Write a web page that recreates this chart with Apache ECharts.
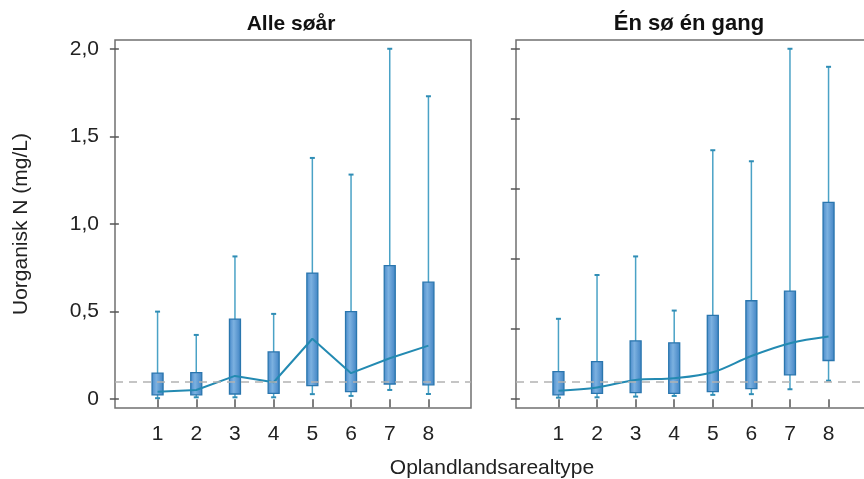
<!DOCTYPE html>
<html>
<head>
<meta charset="utf-8">
<script src="https://cdn.jsdelivr.net/npm/echarts@6/dist/echarts.min.js"></script>
<style>
  html, body { margin: 0; padding: 0; background: #fff; }
  #chart { width: 864px; height: 479px; }
</style>
</head>
<body>
<div id="chart"></div>
<script>
// arealtyper 1-8
var categories = [1, 2, 3, 4, 5, 6, 7, 8];
var xTickLabels = ['1', '2', '3', '4', '5', '6', '7', '8'];
var yTicks = [0, 0.5, 1.0, 1.5, 2.0];
var yTickLabels = ['0', '0,5', '1,0', '1,5', '2,0'];
var yTicksRight = [0, 0.4, 0.8, 1.2, 1.6, 2.0];
var panelTitles = ['Alle søår', 'Én sø én gang'];
var threshold = 0.1;

// Alle søår
var allMin = [0.006, 0.011, 0.011, 0.011, 0.029, 0.019, 0.053, 0.030];
var allQ1 = [0.025, 0.025, 0.030, 0.034, 0.078, 0.043, 0.087, 0.082];
var allMedian = [0.043, 0.053, 0.133, 0.097, 0.345, 0.149, 0.234, 0.306];
var allQ3 = [0.149, 0.152, 0.457, 0.270, 0.720, 0.500, 0.762, 0.668];
var allMax = [0.500, 0.367, 0.815, 0.487, 1.377, 1.282, 2.000, 1.729];

// Én sø én gang
var oneMin = [0.009, 0.011, 0.015, 0.019, 0.025, 0.029, 0.057, 0.106];
var oneQ1 = [0.025, 0.034, 0.038, 0.034, 0.043, 0.061, 0.139, 0.221];
var oneMedian = [0.049, 0.067, 0.110, 0.120, 0.154, 0.247, 0.320, 0.358];
var oneQ3 = [0.158, 0.215, 0.333, 0.322, 0.478, 0.562, 0.617, 1.123];
var oneMax = [0.459, 0.709, 0.815, 0.506, 1.421, 1.358, 2.000, 1.897];

var FONT = 'Liberation Sans, Arial, sans-serif';
var FS = 21;

function boxRows(mn, q1, md, q3, mx) {
  return categories.map(function(c, i) {
    return [c, mn[i], q1[i], md[i], q3[i], mx[i]];
  });
}
function medianRows(md) {
  return categories.map(function(c, i) { return [c, md[i]]; });
}

function renderBox(params, api) {
  var x = api.value(0);
  var lo = api.coord([x, api.value(1)]);
  var q1 = api.coord([x, api.value(2)]);
  var q3 = api.coord([x, api.value(4)]);
  var hi = api.coord([x, api.value(5)]);
  var w = 11;
  var cx = lo[0];
  return {
    type: 'group',
    children: [
      { type: 'line', shape: { x1: cx, y1: lo[1], x2: cx, y2: hi[1] },
        style: { stroke: '#4aa2c6', lineWidth: 1.5 } },
      { type: 'line', shape: { x1: cx - 2.5, y1: hi[1], x2: cx + 2.5, y2: hi[1] },
        style: { stroke: '#2f8db5', lineWidth: 2 } },
      { type: 'line', shape: { x1: cx - 2.5, y1: lo[1], x2: cx + 2.5, y2: lo[1] },
        style: { stroke: '#2f8db5', lineWidth: 2 } },
      { type: 'rect', shape: { x: cx - w / 2, y: q3[1], width: w, height: q1[1] - q3[1] },
        style: {
          fill: new echarts.graphic.LinearGradient(0, 0, 1, 0, [
            { offset: 0, color: '#4688c9' },
            { offset: 0.4, color: '#7cb1e0' },
            { offset: 1, color: '#3f82c3' }
          ]),
          stroke: '#2a76ae',
          lineWidth: 1.3
        } }
    ]
  };
}

function panelSeries(idx, mn, q1, md, q3, mx, smooth) {
  return [
    {
      type: 'custom',
      xAxisIndex: idx,
      yAxisIndex: idx,
      renderItem: renderBox,
      data: boxRows(mn, q1, md, q3, mx),
      z: 2
    },
    {
      type: 'line',
      xAxisIndex: idx,
      yAxisIndex: idx,
      data: medianRows(md),
      smooth: smooth,
      symbol: 'none',
      lineStyle: { color: '#238ab2', width: 2 },
      z: 4,
      markLine: {
        silent: true,
        symbol: 'none',
        label: { show: false },
        lineStyle: { color: '#b3b3b3', type: [8, 6], width: 1.5 },
        data: [{ yAxis: threshold }]
      }
    }
  ];
}

function xAxisFor(idx) {
  return {
    type: 'value',
    gridIndex: idx,
    min: -0.1,
    max: 9.1,
    offset: 2,
    axisLine: { show: false },
    splitLine: { show: false },
    axisTick: { show: true, length: 8, customValues: categories,
      lineStyle: { color: '#555', width: 1.5 } },
    axisLabel: {
      customValues: categories,
      margin: 14,
      color: '#222',
      fontSize: FS,
      fontFamily: FONT,
      formatter: function(v) { return xTickLabels[categories.indexOf(v)]; }
    }
  };
}

var chart = echarts.init(document.getElementById('chart'));
chart.setOption({
  animation: false,
  backgroundColor: '#fff',
  graphic: [
    { type: 'text', x: 291, y: 24,
      style: { text: panelTitles[0], fontSize: FS, fontWeight: 'bold', fill: '#111', fontFamily: FONT,
        align: 'center', verticalAlign: 'middle' } },
    { type: 'text', x: 689, y: 24,
      style: { text: panelTitles[1], fontSize: FS + 1, fontWeight: 'bold', fill: '#111', fontFamily: FONT,
        align: 'center', verticalAlign: 'middle' } },
    { type: 'text', x: 492, y: 468,
      style: { text: 'Oplandlandsarealtype', fontSize: FS, fill: '#222', fontFamily: FONT,
        align: 'center', verticalAlign: 'middle' } }
  ],
  grid: [
    { left: 115, top: 40, width: 356, height: 368, show: true, borderColor: '#707070', borderWidth: 1.5,
      outerBoundsMode: 'none' },
    { left: 516, top: 40, width: 355, height: 368, show: true, borderColor: '#707070', borderWidth: 1.5,
      outerBoundsMode: 'none' }
  ],
  xAxis: [xAxisFor(0), xAxisFor(1)],
  yAxis: [
    {
      type: 'value',
      gridIndex: 0,
      min: -0.05,
      max: 2.05,
      offset: 2,
      name: 'Uorganisk N (mg/L)',
      nameLocation: 'middle',
      nameGap: 81,
      nameTextStyle: { fontSize: FS, color: '#222', fontFamily: FONT },
      axisLine: { show: false },
      splitLine: { show: false },
      axisTick: { show: true, length: 9, customValues: yTicks,
        lineStyle: { color: '#555', width: 1.5 } },
      axisLabel: {
        customValues: yTicks,
        margin: 14,
        color: '#222',
        fontSize: FS,
        fontFamily: FONT,
        formatter: function(v) { return yTickLabels[yTicks.indexOf(v)]; }
      }
    },
    {
      type: 'value',
      gridIndex: 1,
      min: -0.05,
      max: 2.05,
      offset: 2,
      axisLine: { show: false },
      splitLine: { show: false },
      axisTick: { show: true, length: 9, customValues: yTicksRight,
        lineStyle: { color: '#555', width: 1.5 } },
      axisLabel: { show: false }
    }
  ],
  series: panelSeries(0, allMin, allQ1, allMedian, allQ3, allMax, false)
    .concat(panelSeries(1, oneMin, oneQ1, oneMedian, oneQ3, oneMax, 0.35))
});
</script>
</body>
</html>
